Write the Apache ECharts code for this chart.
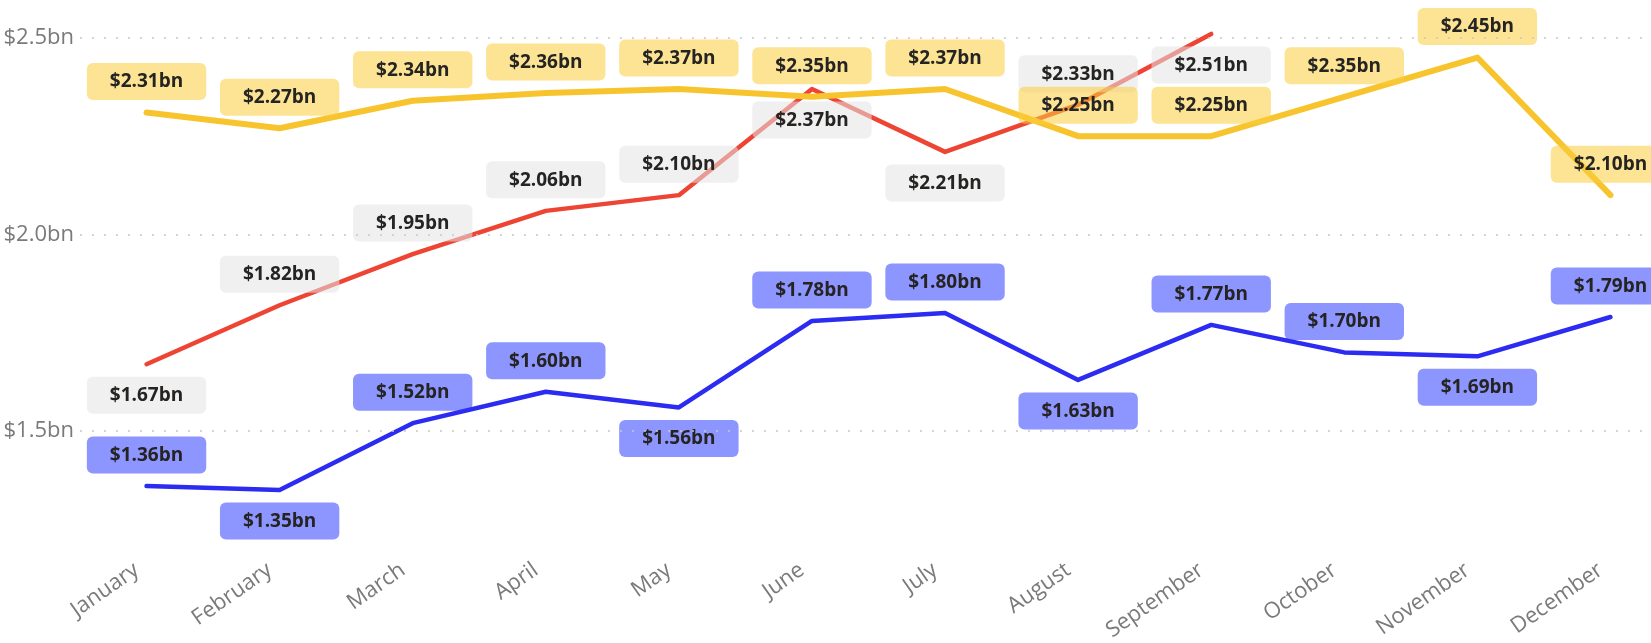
<!DOCTYPE html>
<html>
<head>
<meta charset="utf-8">
<script src="https://cdn.jsdelivr.net/npm/echarts@6/dist/echarts.min.js"></script>
<style>
  html, body { margin: 0; padding: 0; background: #ffffff; }
  #chart { width: 1651px; height: 643px; }
</style>
</head>
<body>
<div id="chart"></div>
<script>
// ---- data ----
const categories = ['January', 'February', 'March', 'April', 'May', 'June', 'July', 'August', 'September', 'October', 'November', 'December'];
const seriesYellow = [2.31, 2.27, 2.34, 2.36, 2.37, 2.35, 2.37, 2.25, 2.25, 2.35, 2.45, 2.10];
const seriesRed = [1.67, 1.82, 1.95, 2.06, 2.10, 2.37, 2.21, 2.33, 2.51, null, null, null];
const seriesBlue = [1.36, 1.35, 1.52, 1.60, 1.56, 1.78, 1.80, 1.63, 1.77, 1.70, 1.69, 1.79];
const yTickValues = [1.5, 2.0, 2.5];

// label placement (style only, separate from values)
const sideYellow = ['top', 'top', 'top', 'top', 'top', 'top', 'top', 'top', 'top', 'top', 'top', 'top'];
const sideRed = ['bottom', 'top', 'top', 'top', 'top', 'bottom', 'bottom', 'top', 'bottom', 'top', 'top', 'top'];
const sideBlue = ['top', 'bottom', 'top', 'top', 'bottom', 'top', 'top', 'bottom', 'top', 'top', 'bottom', 'top'];

const FONT = '"Open Sans", "Noto Sans", sans-serif';

function fmt(v) { return '$' + v.toFixed(2) + 'bn'; }

function buildData(values, sides) {
  return values.map((v, i) => (v == null ? null : {
    value: v,
    label: { position: sides[i] }
  }));
}

function makeSeries(name, values, sides, lineColor, width, labelBg, z) {
  return {
    name: name,
    type: 'line',
    data: buildData(values, sides),
    symbol: 'circle',
    symbolSize: 1,
    showSymbol: true,
    z: z,
    lineStyle: { color: lineColor, width: width, cap: 'round', join: 'round' },
    itemStyle: { color: lineColor },
    label: {
      show: true,
      distance: 12,
      formatter: p => fmt(p.value),
      fontFamily: FONT,
      fontWeight: 'bold',
      fontSize: 19,
      lineHeight: 20,
      color: '#252423',
      backgroundColor: labelBg,
      borderRadius: 6,
      padding: [9, 23, 8, 23]
    },
    labelLayout: { hideOverlap: false },
    emphasis: { disabled: true },
    animation: false
  };
}

const chart = echarts.init(document.getElementById('chart'), null, { renderer: 'canvas' });

const seriesList = [
  makeSeries('Red', seriesRed, sideRed, '#EE4433', 4.5, 'rgba(228,228,228,0.55)', 2),
  makeSeries('Blue', seriesBlue, sideBlue, '#2B2BF2', 4.5, 'rgba(40,55,255,0.53)', 3),
  makeSeries('Yellow', seriesYellow, sideYellow, '#F8C42E', 6, 'rgba(250,205,60,0.55)', 4)
];
// dotted gridlines at the labelled tick values
seriesList[0].markLine = {
  silent: true,
  symbol: 'none',
  label: { show: false },
  animation: false,
  lineStyle: { color: '#c8c8c8', type: [2, 10], width: 1.5 },
  data: yTickValues.map(v => ({ yAxis: v }))
};

chart.setOption({
  animation: false,
  backgroundColor: '#ffffff',
  grid: { left: 80, right: -26, top: 30, bottom: 94, outerBoundsMode: 'none', containLabel: false },
  xAxis: {
    type: 'category',
    data: categories,
    boundaryGap: true,
    axisLine: { show: false },
    axisTick: { show: false },
    axisLabel: {
      rotate: 35,
      interval: 0,
      margin: 12,
      padding: [0, 12, 0, 0],
      color: '#7a7a7a',
      fontFamily: FONT,
      fontSize: 22
    },
    splitLine: { show: false }
  },
  yAxis: {
    type: 'value',
    min: 1.2,
    max: 2.52,
    interval: 0.1,
    axisLine: { show: false },
    axisTick: { show: false },
    splitLine: { show: false },
    axisLabel: {
      margin: 6,
      color: '#7a7a7a',
      fontFamily: FONT,
      fontSize: 22,
      formatter: v => (yTickValues.some(t => Math.abs(t - v) < 1e-6) ? '$' + v.toFixed(1) + 'bn' : '')
    }
  },
  series: seriesList
});
</script>
</body>
</html>
